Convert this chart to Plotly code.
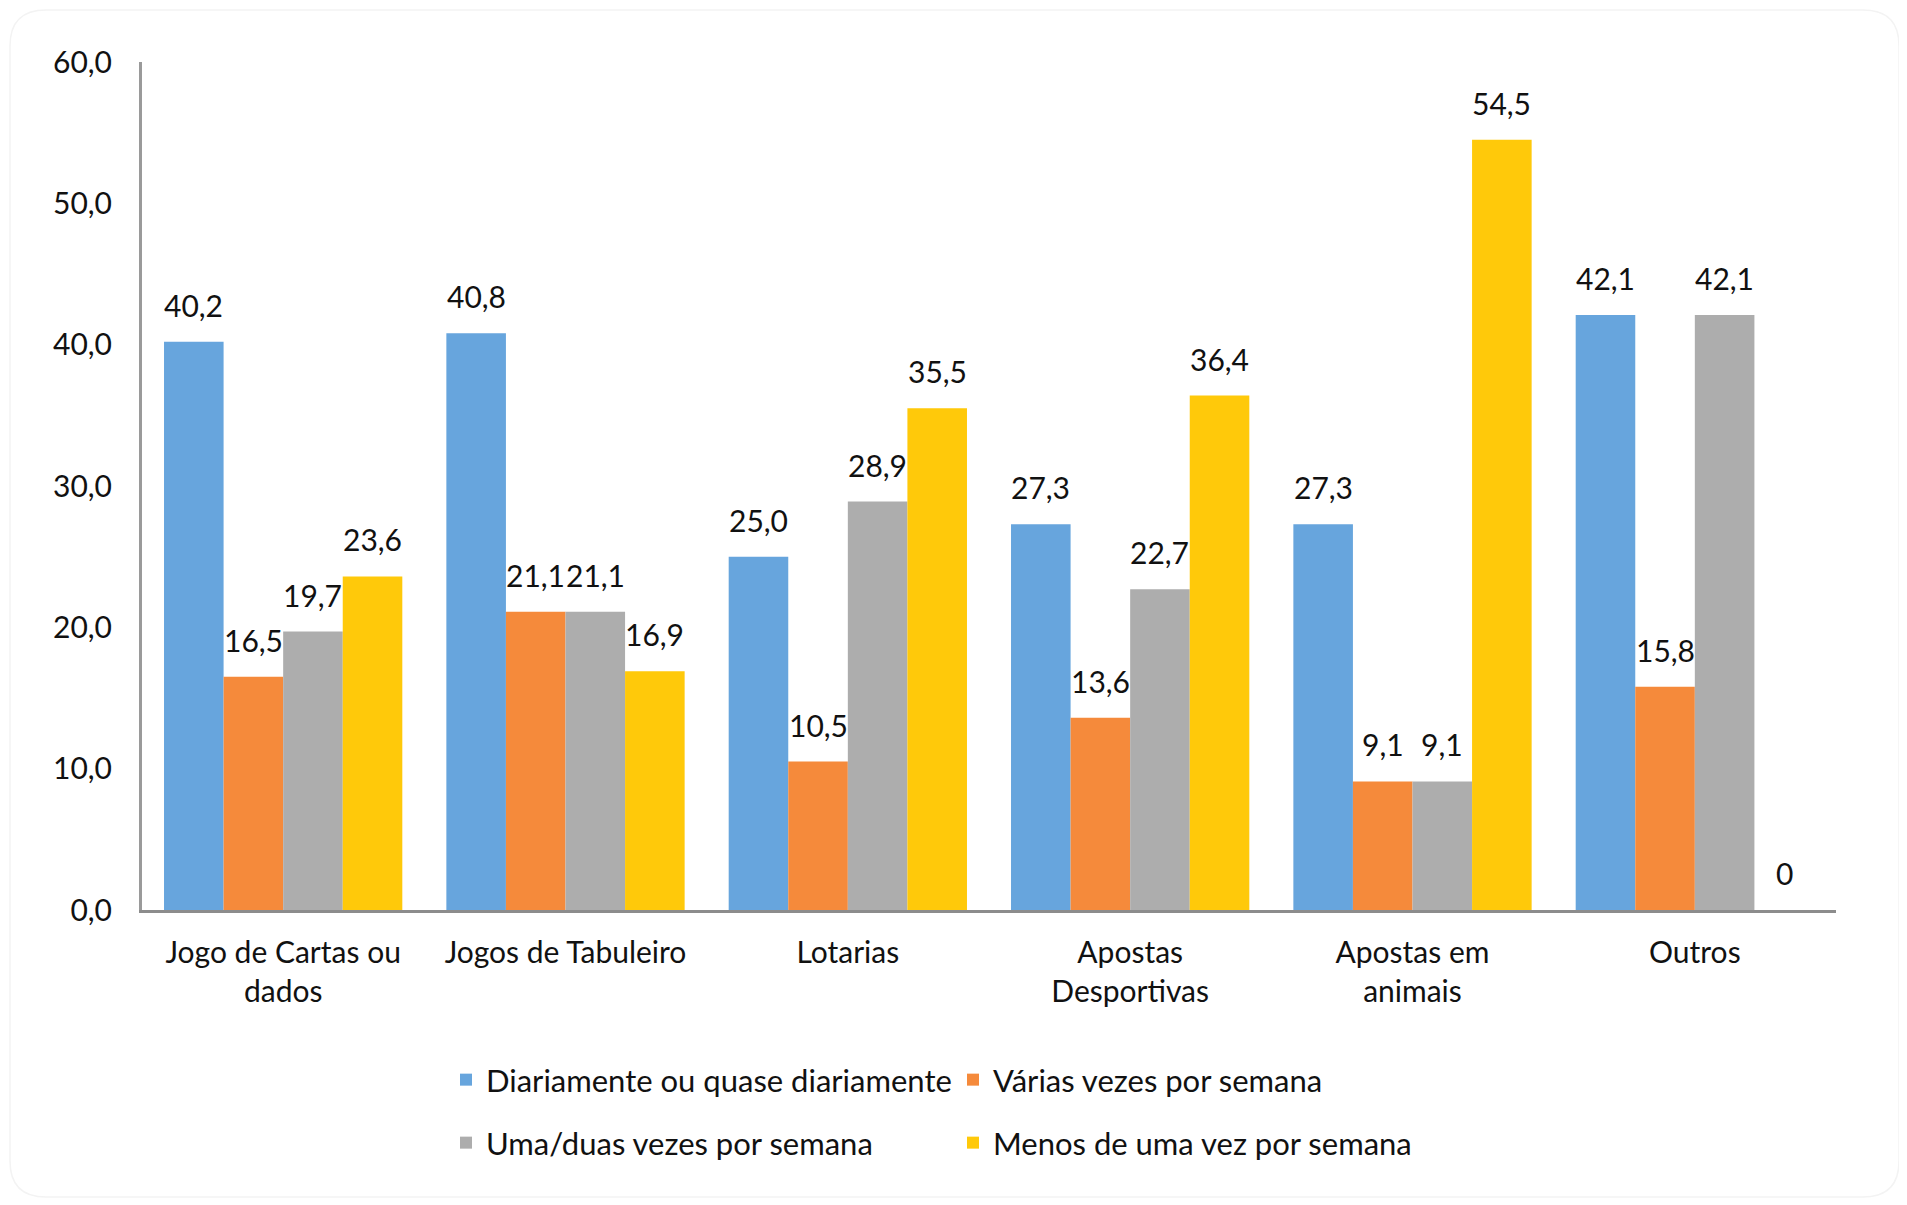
import plotly.graph_objects as go

# ---- data ----
categories = ["Jogo de Cartas ou<br>dados", "Jogos de Tabuleiro", "Lotarias",
              "Apostas<br>Desportivas", "Apostas em<br>animais", "Outros"]
series_names = ["Diariamente ou quase diariamente", "Várias vezes por semana",
                "Uma/duas vezes por semana", "Menos de uma vez por semana"]
diariamente = [40.2, 40.8, 25.0, 27.3, 27.3, 42.1]
varias = [16.5, 21.1, 10.5, 13.6, 9.1, 15.8]
uma_duas = [19.7, 21.1, 28.9, 22.7, 9.1, 42.1]
menos = [23.6, 16.9, 35.5, 36.4, 54.5, 0]
y_tick_values = [0, 10, 20, 30, 40, 50, 60]

series_values = [diariamente, varias, uma_duas, menos]
colors = ["#67A5DD", "#F58A3B", "#ADADAD", "#FFC90A"]
legend_ids = ["legend", "legend", "legend2", "legend2"]

# ---- layout geometry (page body has an 8px margin) ----
OFF = 8
W, H = 1907 - OFF, 1205 - OFF
ML, MR, MT, MB = 142 - OFF, 71, 62 - OFF, 295
PW = W - ML - MR
PH = H - MT - MB
BARGAP = 0.156
NCAT = len(categories)
NSER = len(series_values)
BAR_PX = PW * (1 - BARGAP) / NCAT / NSER

FONT = "Lato"
FS = 30
TXT = "#111111"


def fmt(v):
    if v == 0:
        return "0"
    return f"{v:.1f}".replace(".", ",")


fig = go.Figure()
for i, (name, vals, col, lg) in enumerate(zip(series_names, series_values, colors, legend_ids)):
    fig.add_trace(go.Bar(
        x=categories, y=vals, name=name, marker=dict(color=col, line=dict(width=0)),
        legend=lg, hoverinfo="skip",
    ))

annotations = []
for i, vals in enumerate(series_values):
    for c, v in zip(categories, vals):
        annotations.append(dict(
            x=c, y=v, xref="x", yref="y", text=fmt(v), showarrow=False,
            xshift=(i - (NSER - 1) / 2) * BAR_PX, yshift=37, yanchor="middle",
            font=dict(family=FONT, size=FS, color=TXT),
        ))


def px_x(p):
    # p in window pixels
    return (p - OFF - ML) / PW


def px_y(p):
    return (MT + PH - (p - OFF)) / PH


# faint rounded border
r = 36
x0, y0, x1, y1 = 10, 10, 1899, 1197
path = (f"M {px_x(x0 + r)},{px_y(y0)} L {px_x(x1 - r)},{px_y(y0)} "
        f"Q {px_x(x1)},{px_y(y0)} {px_x(x1)},{px_y(y0 + r)} "
        f"L {px_x(x1)},{px_y(y1 - r)} Q {px_x(x1)},{px_y(y1)} {px_x(x1 - r)},{px_y(y1)} "
        f"L {px_x(x0 + r)},{px_y(y1)} Q {px_x(x0)},{px_y(y1)} {px_x(x0)},{px_y(y1 - r)} "
        f"L {px_x(x0)},{px_y(y0 + r)} Q {px_x(x0)},{px_y(y0)} {px_x(x0 + r)},{px_y(y0)} Z")

legend_common = dict(
    orientation="h", xanchor="left", yanchor="middle",
    font=dict(family=FONT, size=31, color=TXT),
    bgcolor="rgba(0,0,0,0)", borderwidth=0,
    entrywidth=462, entrywidthmode="pixels", itemclick=False, itemdoubleclick=False,
)

fig.update_layout(
    width=W, height=H,
    margin=dict(l=ML, r=MR, t=MT, b=MB, autoexpand=False),
    paper_bgcolor="white", plot_bgcolor="white",
    barmode="group", bargap=BARGAP, bargroupgap=0,
    separators=", ",
    font=dict(family=FONT, size=FS, color=TXT),
    showlegend=True,
    legend=dict(x=px_x(446), y=px_y(1080), **legend_common),
    legend2=dict(x=px_x(446), y=px_y(1143), **legend_common),
    xaxis=dict(
        showline=True, linecolor="#8C8C8C", linewidth=3, showgrid=False,
        ticks="", tickfont=dict(family=FONT, size=FS, color=TXT),
        ticklabelstandoff=14, zeroline=False, fixedrange=True,
    ),
    yaxis=dict(
        range=[0, 60], tickvals=y_tick_values, tickformat=".1f",
        showline=True, linecolor="#9A9A9A", linewidth=3, showgrid=False,
        ticks="", tickfont=dict(family=FONT, size=FS, color=TXT),
        ticklabelstandoff=21, zeroline=False, fixedrange=True,
    ),
    annotations=annotations,
    shapes=[dict(type="path", path=path, xref="paper", yref="paper",
                 line=dict(color="#F3F3F3", width=1.5), layer="below")],
)

fig.write_html("out.html")
